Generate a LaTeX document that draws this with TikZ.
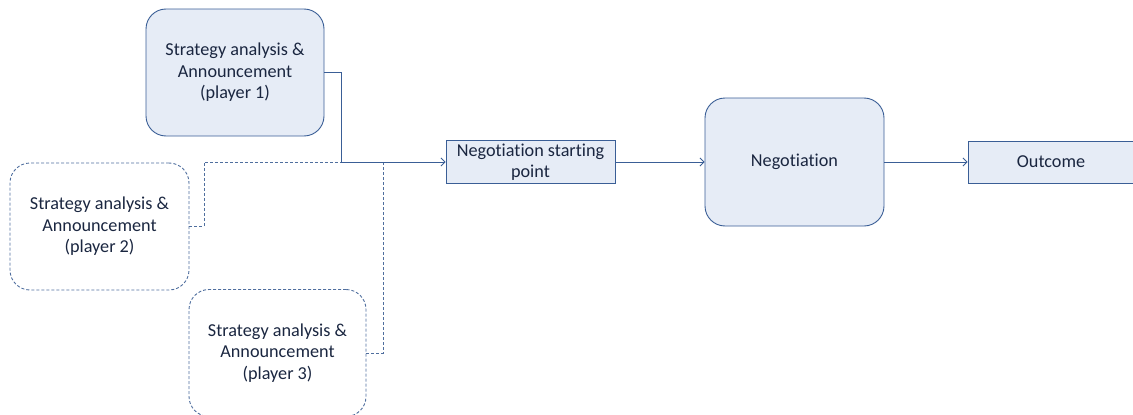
\documentclass[tikz,border=0pt]{standalone}
\usepackage{fontspec}
\setmainfont{Carlito}[Ligatures=NoCommon]
\usetikzlibrary{arrows.meta}
\definecolor{edge}{HTML}{3A5E96}
\definecolor{boxfill}{HTML}{E6ECF6}
\definecolor{ink}{HTML}{1A2640}
\definecolor{dashedge}{HTML}{4F6E9E}
\tikzset{
  every node/.style={font=\fontsize{18.2}{21.5}\selectfont, text=ink, align=center},
  softbox/.style={draw=edge, fill=boxfill, rounded corners=20pt, line width=0.9pt},
  dashbox/.style={draw=dashedge, dash pattern=on 3pt off 2pt, rounded corners=20pt, line width=0.9pt},
  flatbox/.style={draw=edge, fill=boxfill, line width=0.9pt},
  link/.style={draw=edge, line width=0.9pt},
  dashlink/.style={draw=dashedge, line width=0.9pt, dash pattern=on 3pt off 2pt},
  tip/.style={-{Straight Barb[length=4pt,width=8pt,line width=0.8pt]}}
}
\begin{document}
\begin{tikzpicture}[x=1pt,y=-1pt]
\useasboundingbox (0,0) rectangle (1133,415);

\node[softbox, minimum width=178pt, minimum height=127pt] (p1) at (235,72.5)
  {Strategy analysis \&\\Announcement\\(player 1)};
\node[dashbox, minimum width=179pt, minimum height=127pt] (p2) at (99.5,226.5)
  {Strategy analysis \&\\Announcement\\(player 2)};
\node[dashbox, minimum width=177pt, minimum height=127pt] (p3) at (277.5,353)
  {Strategy analysis \&\\Announcement\\(player 3)};
\node[flatbox, minimum width=169pt, minimum height=42pt] (start) at (530.5,162)
  {Negotiation starting\\point};
\node[softbox, minimum width=179pt, minimum height=128pt] (neg) at (794.5,162)
  {Negotiation};
\node[flatbox, minimum width=166pt, minimum height=42pt] (out) at (1051,162)
  {Outcome};

\coordinate (j) at (341,162);
\coordinate (b2) at (204,162);
\coordinate (b3) at (383,162);

\draw[dashlink] (p2.east) -| (b2) -- (j);
\draw[dashlink] (p3.east) -| (b3);
\draw[link, tip] (p1.east) -| (j) -- (start.west);
\draw[link, tip] (start.east) -- (neg.west);
\draw[link, tip] (neg.east) -- (out.west);
\end{tikzpicture}
\end{document}
